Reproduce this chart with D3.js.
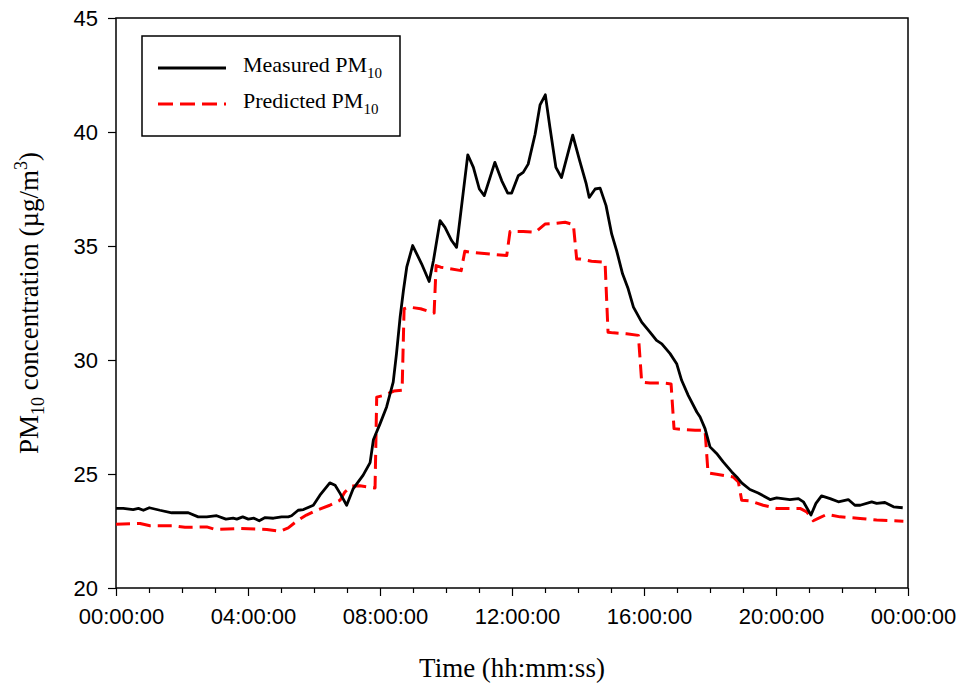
<!DOCTYPE html>
<html>
<head>
<meta charset="utf-8">
<script src="https://cdn.jsdelivr.net/npm/d3@7"></script>
<style>
  html, body { margin: 0; padding: 0; background: #fff; }
  svg { display: block; }
</style>
</head>
<body>
<svg id="chart" width="963" height="685"></svg>
<script>
// ---- Data (time in hours since 00:00:00, PM10 in µg/m³) ----
const measuredHours = [0,0.22,0.52,0.68,0.83,1.01,1.33,1.69,1.94,2.19,2.49,2.75,3.05,3.33,3.55,3.66,3.84,4.01,4.18,4.34,4.52,4.77,5.02,5.22,5.32,5.52,5.68,5.98,6.18,6.48,6.64,6.79,6.99,7.19,7.49,7.70,7.80,8.0,8.20,8.40,8.50,8.61,8.71,8.81,8.99,9.26,9.49,9.62,9.82,9.97,10.17,10.32,10.66,10.83,11.01,11.16,11.48,11.69,11.87,11.99,12.19,12.34,12.49,12.70,12.85,13.01,13.15,13.33,13.50,13.84,14.05,14.25,14.34,14.52,14.67,14.85,15.02,15.17,15.35,15.52,15.68,15.93,16.18,16.38,16.54,16.79,16.99,17.14,17.34,17.60,17.70,17.85,18.0,18.20,18.40,18.66,18.81,18.96,19.21,19.46,19.82,20.02,20.42,20.68,20.83,21.06,21.21,21.38,21.64,21.89,22.19,22.39,22.55,22.90,23.05,23.30,23.56,23.84];
const measuredValues = [23.49,23.49,23.44,23.49,23.41,23.52,23.41,23.30,23.31,23.30,23.12,23.12,23.17,23.02,23.06,23.02,23.12,23.02,23.06,22.95,23.09,23.06,23.12,23.12,23.17,23.41,23.44,23.63,24.07,24.61,24.51,24.15,23.63,24.36,24.95,25.5,26.5,27.2,27.94,29.03,30.28,31.88,33.05,34.07,35.02,34.22,33.44,34.36,36.11,35.82,35.24,34.94,39.0,38.45,37.5,37.21,38.67,37.86,37.32,37.32,38.08,38.23,38.59,39.9,41.19,41.63,40.2,38.45,38.0,39.86,38.74,37.72,37.13,37.5,37.54,36.77,35.53,34.80,33.78,33.12,32.32,31.66,31.22,30.86,30.71,30.28,29.84,29.11,28.45,27.72,27.5,26.99,26.19,25.90,25.53,25.09,24.87,24.61,24.32,24.17,23.88,23.95,23.88,23.92,23.78,23.2,23.71,24.04,23.92,23.78,23.88,23.63,23.63,23.78,23.71,23.75,23.56,23.52];

const predictedHours = [0,0.73,1.03,1.74,2.09,2.75,3.0,3.76,4.57,4.97,5.22,5.52,5.77,6.08,6.48,6.79,6.94,7.14,7.39,7.85,7.90,8.12,8.42,8.67,8.73,8.88,9.23,9.64,9.70,9.84,10.46,10.57,10.73,11.84,11.94,12.34,12.70,13.0,13.30,13.61,13.86,13.96,14.06,14.41,14.82,14.91,15.07,15.47,15.83,15.93,16.18,16.58,16.82,16.91,17.2,17.55,17.85,17.94,18.2,18.70,18.86,18.96,19.21,19.61,20.02,20.73,20.93,21.13,21.28,21.54,21.94,22.55,23.05,23.86];
const predictedValues = [22.80,22.83,22.73,22.73,22.66,22.68,22.57,22.61,22.57,22.49,22.64,22.98,23.2,23.41,23.63,23.85,24.22,24.47,24.48,24.39,28.37,28.45,28.64,28.67,32.25,32.32,32.25,32.06,34.14,34.07,33.92,34.77,34.73,34.58,35.64,35.64,35.60,35.96,35.99,36.04,35.94,34.43,34.43,34.33,34.29,31.22,31.19,31.15,31.08,29.03,28.99,28.99,28.95,26.99,26.95,26.92,26.92,25.05,24.99,24.87,24.65,23.85,23.82,23.63,23.49,23.49,23.34,22.95,23.05,23.23,23.12,23.05,22.98,22.93];

const xMajorTicks = [0, 4, 8, 12, 16, 20, 24];
const xTickLabels = ["00:00:00", "04:00:00", "08:00:00", "12:00:00", "16:00:00", "20:00:00", "00:00:00"];
const yTicks = [20, 25, 30, 35, 40, 45];
const seriesNames = ["Measured PM", "Predicted PM"];

// ---- Layout ----
const svg = d3.select("#chart");
const mLeft = 116, mRight = 908, mTop = 18, mBottom = 588;

const x = d3.scaleLinear().domain([0, 24]).range([mLeft, mRight]);
const y = d3.scaleLinear().domain([20, 45]).range([mBottom, mTop]);

const sans = "'Liberation Sans', Arial, sans-serif";
const serif = "'Liberation Serif', 'Times New Roman', serif";

// Axes
const xMinor = d3.range(0, 25, 1).filter(h => h % 4 !== 0);
const xAxisMajor = d3.axisBottom(x).tickValues(xMajorTicks)
  .tickFormat((d, i) => xTickLabels[i]).tickSize(8).tickPadding(12);
const xAxisMinor = d3.axisBottom(x).tickValues(xMinor).tickFormat("").tickSize(5);
const yAxis = d3.axisLeft(y).tickValues(yTicks).tickSize(8).tickPadding(10);

const gx = svg.append("g").attr("transform", `translate(0,${mBottom})`).call(xAxisMajor);
const gxm = svg.append("g").attr("transform", `translate(0,${mBottom})`).call(xAxisMinor);
const gy = svg.append("g").attr("transform", `translate(${mLeft},0)`).call(yAxis);

[gx, gxm, gy].forEach(g => {
  g.select(".domain").remove();
  g.selectAll(".tick line").attr("stroke", "#000").attr("stroke-width", 1.2);
  g.selectAll(".tick text").attr("fill", "#000").style("font-family", sans).style("font-size", "22px");
});
gx.selectAll(".tick text").attr("dy", "0.71em").attr("dx", 5);

// Frame
svg.append("rect").attr("x", mLeft).attr("y", mTop)
  .attr("width", mRight - mLeft).attr("height", mBottom - mTop)
  .attr("fill", "none").attr("stroke", "#000").attr("stroke-width", 1.5);

// Lines
const line = d3.line().x(d => x(d[0])).y(d => y(d[1]));
const measured = measuredHours.map((h, i) => [h, measuredValues[i]]);
const predicted = predictedHours.map((h, i) => [h, predictedValues[i]]);

svg.append("path").datum(predicted).attr("d", line)
  .attr("fill", "none").attr("stroke", "#ff0000").attr("stroke-width", 3)
  .attr("stroke-dasharray", "14,7").attr("stroke-linejoin", "round");
svg.append("path").datum(measured).attr("d", line)
  .attr("fill", "none").attr("stroke", "#000").attr("stroke-width", 2.8)
  .attr("stroke-linejoin", "round");

// Axis titles
svg.append("text").attr("x", (mLeft + mRight) / 2).attr("y", 677)
  .attr("text-anchor", "middle").style("font-family", serif).style("font-size", "27px")
  .text("Time (hh:mm:ss)");

const yt = svg.append("text")
  .attr("transform", `translate(38,${(mTop + mBottom) / 2 + 0}) rotate(-90)`)
  .attr("text-anchor", "middle").style("font-family", serif).style("font-size", "27px");
yt.append("tspan").text("PM");
yt.append("tspan").attr("dy", 6).style("font-size", "18px").text("10");
yt.append("tspan").attr("dy", -6).text(" concentration (µg/m");
yt.append("tspan").attr("dy", -11).style("font-size", "18px").text("3");
yt.append("tspan").attr("dy", 11).text(")");

// Legend
const lg = svg.append("g");
lg.append("rect").attr("x", 142).attr("y", 36).attr("width", 258).attr("height", 100)
  .attr("fill", "#fff").attr("stroke", "#000").attr("stroke-width", 1.5);
const legendItems = [
  { name: seriesNames[0], color: "#000", dash: null, w: 2.8, ly: 68, ty: 72 },
  { name: seriesNames[1], color: "#ff0000", dash: "15,7", w: 3, ly: 104, ty: 108 }
];
legendItems.forEach(it => {
  lg.append("line").attr("x1", 158).attr("x2", 226).attr("y1", it.ly).attr("y2", it.ly)
    .attr("stroke", it.color).attr("stroke-width", it.w)
    .attr("stroke-dasharray", it.dash);
  const t = lg.append("text").attr("x", 243).attr("y", it.ty)
    .style("font-family", serif).style("font-size", "22px");
  t.append("tspan").text(it.name);
  t.append("tspan").attr("dy", 6).style("font-size", "15px").text("10");
});
</script>
</body>
</html>
